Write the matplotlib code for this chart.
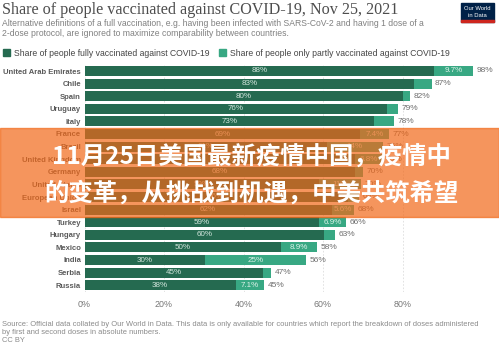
import matplotlib
matplotlib.use("Agg")
from matplotlib import pyplot as plt
from matplotlib.patches import Rectangle

# data (share of population, %)
countries = ["United Arab Emirates", "Chile", "Spain", "Uruguay", "Italy", "France",
             "Brazil", "United Kingdom", "Germany", "United States", "European Union",
             "Israel", "Turkey", "Hungary", "Mexico", "India", "Serbia", "Russia"]
fully = [88.0, 83.0, 80.2, 76.1, 72.8, 69.3, 61.0, 68.0, 68.0, 58.9, 66.2,
         62.2, 58.9, 60.3, 49.5, 30.4, 45.0, 38.0]
partly = [9.7, 4.3, 1.6, 2.8, 5.0, 7.4, 14.0, 6.8, 2.0, 10.7, 2.8,
          5.6, 6.9, 2.8, 8.9, 25.4, 2.0, 7.1]
xticks = [0, 20, 40, 60, 80]

title = "Share of people vaccinated against COVID-19, Nov 25, 2021"
subtitle = ["Alternative definitions of a full vaccination, e.g. having been infected with SARS-CoV-2 and having 1 dose of a",
            "2-dose protocol, are ignored to maximize comparability between countries."]
legend_labels = ["Share of people fully vaccinated against COVID-19",
                 "Share of people only partly vaccinated against COVID-19"]
footer = ["Source: Official data collated by Our World in Data. This data is only available for countries which report the breakdown of doses administered",
          "by first and second doses in absolute numbers.",
          "CC BY"]
overlay = ["11月25日美国最新疫情中国，疫情中", "的变革，从挑战到机遇，中美共筑希望"]

c_full = "#256a50"
c_part = "#38a883"
W, H = 499, 348
plt.rcParams["font.family"] = ["Liberation Sans", "DejaVu Sans"]

fig = plt.figure(figsize=(W / 100, H / 100), dpi=100)


def fx(px):
    return px / W


def fy(py):
    return 1 - py / H


ax = fig.add_axes([fx(84.5), fy(291.5), fx(482) - fx(84.5), fy(64.7) - fy(291.5)])
y = list(range(len(countries)))
ax.barh(y, fully, height=0.8, color=c_full, zorder=2)
ax.barh(y, partly, left=fully, height=0.8, color=c_part, zorder=2)

for i, (f, p) in enumerate(zip(fully, partly)):
    ax.text(f / 2, i, f"{f:.0f}%", ha="center", va="center", fontsize=5.8,
            color="#d3e6dd", zorder=3)
    if p >= 5.5:
        lab = f"{p:.1f}%" if p < 10 else f"{p:.0f}%"
        ax.text(f + p / 2, i, lab, ha="center", va="center", fontsize=5.8,
                color="#dcf1e8", zorder=3)
    ax.text(f + p + 0.9, i, f"{f + p:.0f}%", ha="left", va="center", fontsize=6.0,
            color="#6e6e6e", zorder=3)

ax.set_xlim(0, 100)
ax.set_ylim(len(countries) - 0.5, -0.5)
ax.set_yticks(y)
ax.set_yticklabels(countries, fontsize=5.5, color="#5a5a5a", fontweight="bold")
ax.set_xticks(xticks)
ax.set_xticklabels([f"{t}%" for t in xticks], fontsize=6.4, color="#777777")
ax.tick_params(axis="both", length=0)
ax.tick_params(axis="y", pad=2.5)
ax.tick_params(axis="x", pad=6)
for s in ax.spines.values():
    s.set_visible(False)
ax.grid(axis="x", color="#dddddd", linestyle=(0, (2, 2)), linewidth=0.6, zorder=0)
ax.set_axisbelow(True)

# header
fig.text(fx(2), fy(14.5), title, family="Liberation Serif", fontsize=11.6,
         color="#4d4d4d", va="baseline")
fig.text(fx(2), fy(26.5), subtitle[0], fontsize=6.2, color="#808080", va="baseline")
fig.text(fx(2), fy(36), subtitle[1], fontsize=6.2, color="#808080", va="baseline")

fig.add_artist(Rectangle((fx(3), fy(56)), fx(7), fy(49) - fy(56), color=c_full,
                         transform=fig.transFigure))
fig.text(fx(13.5), fy(55.5), legend_labels[0], fontsize=6.2, color="#444444", va="baseline")
fig.add_artist(Rectangle((fx(219), fy(56)), fx(7), fy(49) - fy(56), color=c_part,
                         transform=fig.transFigure))
fig.text(fx(229.5), fy(55.5), legend_labels[1], fontsize=6.2, color="#444444", va="baseline")

# logo
fig.add_artist(Rectangle((fx(461), fy(22)), fx(33), fy(3) - fy(22), color="#002147",
                         transform=fig.transFigure))
fig.add_artist(Rectangle((fx(461), fy(22)), fx(33), fy(20) - fy(22), color="#ce261e",
                         transform=fig.transFigure))
fig.text(fx(477.5), fy(9), "Our World", fontsize=4.2, color="white", ha="center", va="center")
fig.text(fx(477.5), fy(15.5), "in Data", fontsize=4.2, color="white", ha="center", va="center")

# footer
for txt, py in zip(footer, [326, 334.3, 342.5]):
    fig.text(fx(2), fy(py), txt, fontsize=5.4, color="#8a8a8a", va="baseline")

# orange banner with headline
fig.add_artist(Rectangle((0, fy(217)), 1, fy(128) - fy(217), color="#f16818", alpha=0.7,
                         transform=fig.transFigure, zorder=10))
for txt, py in zip(overlay, [158, 193]):
    fig.text(0.503, fy(py), txt, family=["Noto Sans CJK SC", "DejaVu Sans"],
             fontweight="bold", fontsize=17.6, color="white", ha="center",
             va="center", zorder=11)

fig.savefig("out.png", dpi=100)
